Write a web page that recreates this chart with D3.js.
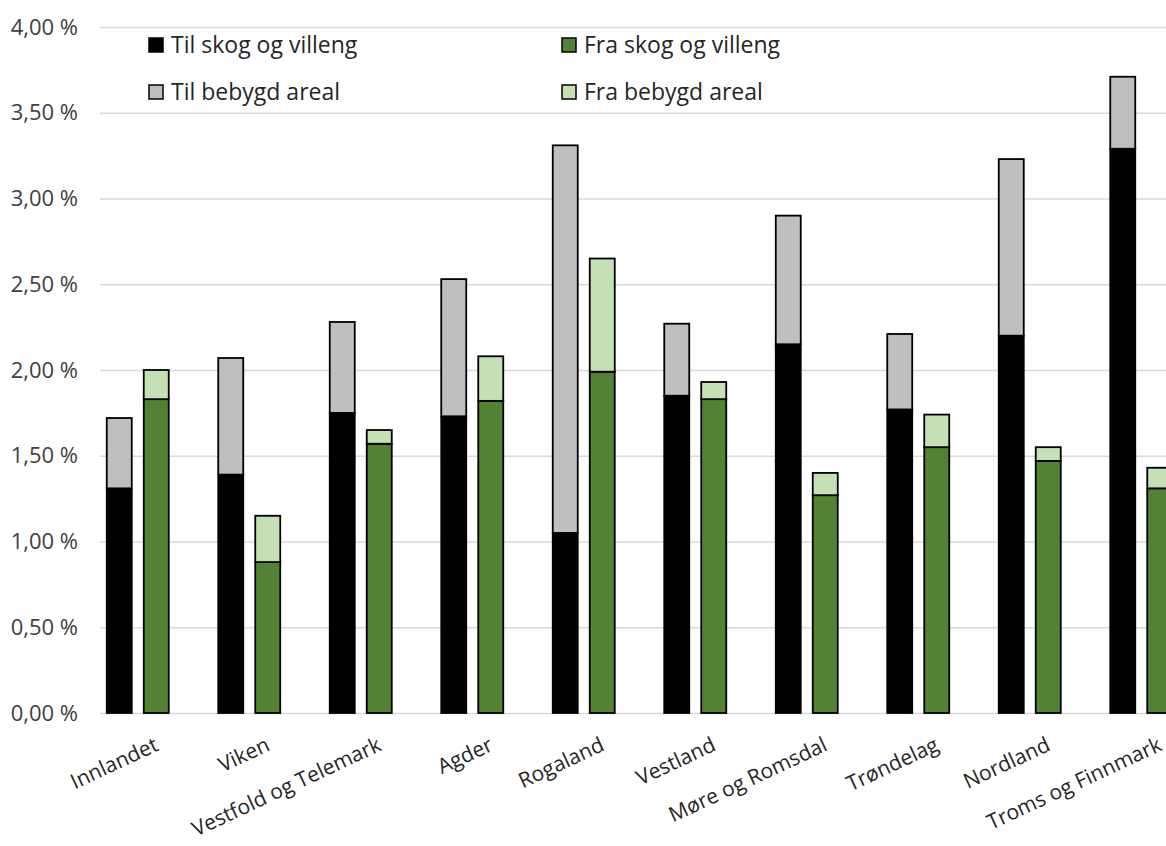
<!DOCTYPE html>
<html>
<head>
<meta charset="utf-8">
<script src="https://cdn.jsdelivr.net/npm/d3@7"></script>
<style>
  body { margin: 0; background: #fff; }
  svg { display: block; font-family: "Open Sans", sans-serif; }
</style>
</head>
<body>
<svg id="chart" width="1166" height="846"></svg>
<script>
// Regions (fylker)
const regions = ["Innlandet", "Viken", "Vestfold og Telemark", "Agder", "Rogaland",
                 "Vestland", "Møre og Romsdal", "Trøndelag", "Nordland", "Troms og Finnmark"];

// Share of area (%) — left stack: changed TO; right stack: changed FROM
const tilSkog    = [1.31, 1.39, 1.75, 1.73, 1.05, 1.85, 2.15, 1.77, 2.20, 3.29];
const tilBebygd  = [0.41, 0.68, 0.53, 0.80, 2.26, 0.42, 0.75, 0.44, 1.03, 0.42];
const fraSkog    = [1.83, 0.88, 1.57, 1.82, 1.99, 1.83, 1.27, 1.55, 1.47, 1.31];
const fraBebygd  = [0.17, 0.27, 0.08, 0.26, 0.66, 0.10, 0.13, 0.19, 0.08, 0.12];

const yTicks = [0, 0.5, 1, 1.5, 2, 2.5, 3, 3.5, 4];

const seriesNames = {
  tilSkog: "Til skog og villeng",
  fraSkog: "Fra skog og villeng",
  tilBebygd: "Til bebygd areal",
  fraBebygd: "Fra bebygd areal"
};
const colors = {
  tilSkog: "#000000",
  tilBebygd: "#bfbfbf",
  fraSkog: "#548235",
  fraBebygd: "#c5e0b4"
};

const svg = d3.select("#chart");
const plotLeft = 100, plotRight = 1200;

const y = d3.scaleLinear().domain([0, 4]).range([713, 27]);
const x = d3.scaleBand().domain(regions).range([82, 1197]);
const side = d3.scaleBand()
  .domain(["til", "fra"])
  .range([x.bandwidth() / 2 - 31, x.bandwidth() / 2 + 31])
  .paddingInner(12 / 37);

const nb = d3.formatLocale({ decimal: ",", thousands: " ", grouping: [3], currency: ["", " kr"] });
const fmt2 = nb.format(".2f");
const pct = v => fmt2(v) + " %";

// Gridlines and y tick labels
const yAxis = d3.axisLeft(y)
  .tickValues(yTicks)
  .tickFormat(pct)
  .tickSize(-(plotRight - plotLeft))
  .tickPadding(22);

const gy = svg.append("g")
  .attr("transform", `translate(${plotLeft},0)`)
  .call(yAxis);
gy.select(".domain").remove();
gy.selectAll(".tick line").attr("stroke", "#d9d9d9").attr("stroke-width", 1.5);
gy.selectAll(".tick text")
  .attr("fill", "#404040")
  .style("font-size", "22px")
  .style("font-family", "'Open Sans', sans-serif");

// Build rows for stacking
const rows = regions.map((r, i) => ({
  region: r,
  tilSkog: tilSkog[i], tilBebygd: tilBebygd[i],
  fraSkog: fraSkog[i], fraBebygd: fraBebygd[i]
}));

const stacks = [
  { side: "til", keys: ["tilSkog", "tilBebygd"] },
  { side: "fra", keys: ["fraSkog", "fraBebygd"] }
];

const barsG = svg.append("g");
stacks.forEach(s => {
  const layers = d3.stack().keys(s.keys)(rows);
  layers.forEach(layer => {
    barsG.append("g")
      .attr("fill", colors[layer.key])
      .selectAll("rect")
      .data(layer)
      .join("rect")
        .attr("x", d => x(d.data.region) + side(s.side))
        .attr("width", side.bandwidth())
        .attr("y", d => y(d[1]))
        .attr("height", d => y(d[0]) - y(d[1]))
        .attr("stroke", "#000")
        .attr("stroke-width", 1.8);
  });
});

// Category labels, rotated
const xg = svg.append("g");
xg.selectAll("text")
  .data(regions)
  .join("text")
    .attr("transform", d => `translate(${x(d) + x.bandwidth() / 2 + 15},735) rotate(-25)`)
    .attr("text-anchor", "end")
    .attr("dy", "0.78em")
    .attr("fill", "#262626")
    .style("font-size", "21px")
    .text(d => d);

// Legend
const legendItems = [
  { key: "tilSkog", x: 149, y: 38 },
  { key: "fraSkog", x: 562, y: 38 },
  { key: "tilBebygd", x: 149, y: 85 },
  { key: "fraBebygd", x: 562, y: 85 }
];
const lg = svg.append("g");
const li = lg.selectAll("g")
  .data(legendItems)
  .join("g")
    .attr("transform", d => `translate(${d.x},${d.y})`);
li.append("rect")
  .attr("width", 14).attr("height", 14)
  .attr("fill", d => colors[d.key])
  .attr("stroke", "#000").attr("stroke-width", 1.5);
li.append("text")
  .attr("x", 22).attr("y", 14.5)
  .attr("fill", "#262626")
  .style("font-size", "23px")
  .text(d => seriesNames[d.key]);
</script>
</body>
</html>
